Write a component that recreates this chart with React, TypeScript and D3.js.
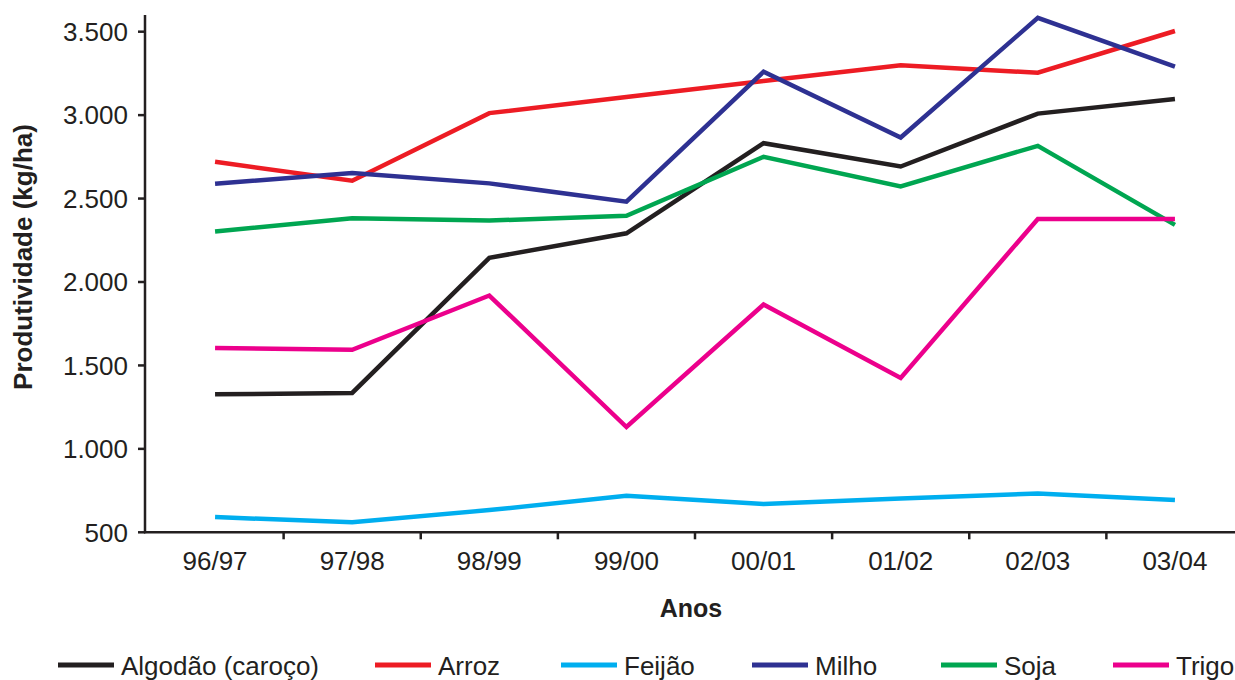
import React from "react";
import * as d3 from "d3";

const categories = ["96/97", "97/98", "98/99", "99/00", "00/01", "01/02", "02/03", "03/04"];
const algodao = [1327, 1335, 2145, 2292, 2832, 2692, 3009, 3097];
const arroz = [2720, 2607, 3012, 3109, 3205, 3299, 3254, 3504];
const feijao = [591, 560, 633, 719, 669, 703, 733, 693];
const milho = [2589, 2653, 2591, 2481, 3260, 2866, 3583, 3290];
const soja = [2302, 2382, 2368, 2397, 2750, 2573, 2816, 2342];
const trigo = [1604, 1594, 1919, 1131, 1865, 1425, 2378, 2378];
const seriesNames = ["Algodão (caroço)", "Arroz", "Feijão", "Milho", "Soja", "Trigo"];
const yTicks = [500, 1000, 1500, 2000, 2500, 3000, 3500];

const seriesValues = [algodao, arroz, feijao, milho, soja, trigo];
const colors = ["#231f20", "#ed1c24", "#00aeef", "#2e3192", "#00a651", "#ec008c"];
const legendX = [58, 375, 561, 752, 941, 1113];

const W = 1235;
const H = 680;
const FONT = "'Liberation Sans', Arial, Helvetica, sans-serif";
const INK = "#231f20";

export default function App() {
  const x = d3.scalePoint<string>().domain(categories).range([146.5, 1243.5]).padding(0.5);
  const step = x.step();
  const y = d3.scaleLinear().domain([500, 3600]).range([532.3, 15]);
  const fmt = d3.formatLocale({ decimal: ",", thousands: ".", grouping: [3], currency: ["R$", ""] }).format(",d");
  const line = d3
    .line<number>()
    .x((_, i) => x(categories[i]) as number)
    .y((d) => y(d));
  const x0 = 145;
  const yBase = y(500);
  const xTicks = categories.map((c) => (x(c) as number) + step / 2);

  return (
    <svg width={W} height={H} style={{ position: "absolute", left: 0, top: 0, background: "#fff" }} fontFamily={FONT}>
      {/* lines */}
      {seriesValues.map((vals, si) => (
        <path
          key={si}
          d={line(vals) || ""}
          fill="none"
          stroke={colors[si]}
          strokeWidth={4.5}
          strokeLinejoin="miter"
          strokeLinecap="butt"
        />
      ))}
      {/* y axis */}
      <line x1={x0} x2={x0} y1={y(3600)} y2={yBase + 1} stroke={INK} strokeWidth={2.5} />
      {yTicks.map((t) => (
        <g key={t}>
          <line x1={x0 - 7} x2={x0} y1={y(t)} y2={y(t)} stroke={INK} strokeWidth={2.5} />
          <text x={128} y={y(t)} dy="0.36em" textAnchor="end" fontSize={26} fill={INK}>
            {fmt(t)}
          </text>
        </g>
      ))}
      {/* x axis */}
      <line x1={x0 - 1} x2={W} y1={yBase} y2={yBase} stroke={INK} strokeWidth={2.5} />
      {xTicks.map((tx, i) => (
        <line key={i} x1={tx} x2={tx} y1={yBase} y2={yBase + 7} stroke={INK} strokeWidth={2.5} />
      ))}
      {categories.map((c) => (
        <text key={c} x={x(c) as number} y={570} textAnchor="middle" fontSize={26} fill={INK}>
          {c}
        </text>
      ))}
      {/* axis titles */}
      <text x={691} y={617} textAnchor="middle" fontSize={25} fontWeight="bold" fill={INK}>
        Anos
      </text>
      <text
        transform={`translate(32, 257) rotate(-90)`}
        textAnchor="middle"
        fontSize={26}
        fontWeight="bold"
        fill={INK}
      >
        Produtividade (kg/ha)
      </text>
      {/* legend */}
      {seriesNames.map((n, i) => (
        <g key={n} transform={`translate(${legendX[i]}, 0)`}>
          <line x1={0} x2={56} y1={665} y2={665} stroke={colors[i]} strokeWidth={5} />
          <text x={63} y={675} fontSize={26} fill={INK}>
            {n}
          </text>
        </g>
      ))}
    </svg>
  );
}
